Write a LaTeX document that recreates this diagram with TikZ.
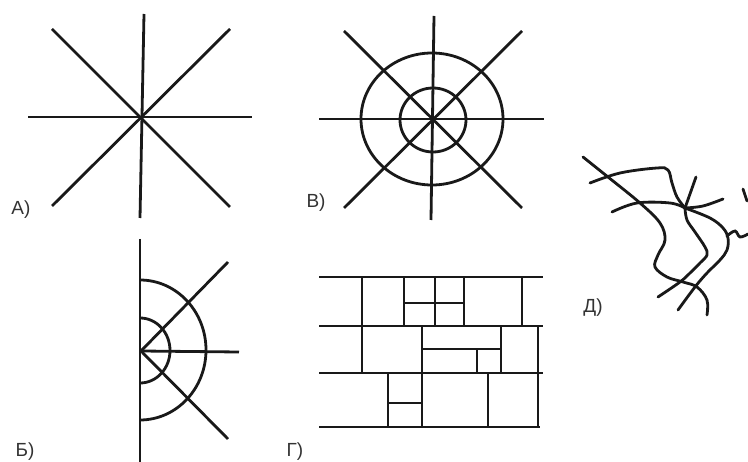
\documentclass[tikz,border=0pt]{standalone}
\usepackage{fontspec}
\newfontfamily\tagfont{Liberation Sans}
\usetikzlibrary{calc}
\tikzset{
  stroke/.style={line width=2.8pt, draw=black!90},
  curvy/.style={stroke, line cap=round, smooth, tension=0.6},
  tag/.style={font=\tagfont\fontsize{19}{21}\selectfont, inner sep=0pt, text=black!80},
}

\begin{document}
\begin{tikzpicture}[x=1pt, y=-1pt]
\useasboundingbox (0,0) rectangle (748,462);
% A) radial rays
\coordinate (Ac) at (142,117);
\draw[stroke] (144,14) -- (140,218);
\draw[stroke] (28,117) -- (252,117);
\draw[stroke] (52,29) -- (230,207);
\draw[stroke] (230,29) -- (52,206);
\node[tag] (tagA) at (21,210) {А)};
% B) rays with rings
\coordinate (Bc) at (433,119);
\draw[stroke] (434,16) -- (431,220);
\draw[stroke] (319,119) -- (544,119);
\draw[stroke] (344,31) -- (522,208);
\draw[stroke] (522,31) -- (344,208);
\draw[stroke] (432,119) ellipse [x radius=71, y radius=66];
\draw[stroke] (433,120) ellipse [x radius=33, y radius=32];
\node[tag] (tagB) at (316,203) {В)};
% Б) half-radial
\coordinate (Hc) at (141,351);
\draw[stroke] (140,239) -- (140,462);
\draw[stroke] (Hc) -- (239,352);
\draw[stroke] (Hc) -- (228,262);
\draw[stroke] (Hc) -- (228,439);
\draw[stroke] (140,280) arc [start angle=-90, end angle=90, x radius=66, y radius=70];
\draw[stroke] (140,318) arc [start angle=-90, end angle=90, x radius=30, y radius=32.5];
\node[tag] (tagH) at (25,452) {Б)};
% Г) rectangular blocks
\foreach \y in {277,326,373} \draw[stroke] (319,\y) -- (543,\y);
\draw[stroke] (319,427) -- (540,427);
\draw[stroke] (362,277) -- (362,373);
\foreach \x in {404,435,464,522} \draw[stroke] (\x,277) -- (\x,326);
\draw[stroke] (404,303) -- (464,303);
\draw[stroke] (422,326) -- (422,427);
\draw[stroke] (538,326) -- (538,427);
\draw[stroke] (501,326) -- (501,373);
\draw[stroke] (422,349) -- (501,349);
\draw[stroke] (477,349) -- (477,373);
\draw[stroke] (388,373) -- (388,427);
\draw[stroke] (488,373) -- (488,427);
\draw[stroke] (388,403) -- (422,403);
\node[tag] (tagG) at (295,452) {Г)};
% Д) irregular
\coordinate (Dj) at (685,208);
\draw[curvy] plot coordinates {(583,157) (608,177) (640,203) (660,223) (665,240) (658,255) (655,267) (667,277) (683,282) (697,287) (707,300) (707,315)};
\draw[curvy] plot coordinates {(590,183) (620,173) (657,168) (668,170) (672,183) (677,197) (685,208)};
\draw[curvy] plot coordinates {(612,212) (637,203) (670,203) (685,208)};
\draw[stroke, line cap=round] (Dj) -- (696,177);
\draw[curvy] plot coordinates {(685,208) (703,206) (723,199)};
\draw[curvy] plot coordinates {(685,208) (687,220) (695,232) (705,247) (707,255) (700,263) (690,273) (680,282) (658,297)};
\draw[curvy] plot coordinates {(685,208) (710,218) (723,228) (728,238) (727,250) (720,260) (707,273) (695,287) (678,310)};
\draw[curvy] plot coordinates {(727,236) (735,231) (740,237) (748,234)};
\draw[stroke, line cap=round] (743,189) -- (747,201);
\node[tag] (tagD) at (593,308) {Д)};
\end{tikzpicture}
\end{document}
